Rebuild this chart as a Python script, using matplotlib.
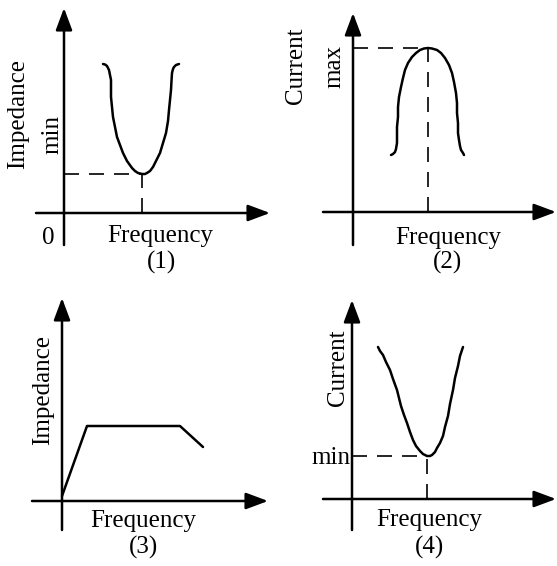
import matplotlib
matplotlib.use('Agg')
import matplotlib.pyplot as plt

plt.rcParams['font.family'] = ['Liberation Serif', 'DejaVu Serif']

W, H = 557, 566

# curves (frequency, value) relative to each origin
freq1 = [39, 41, 43, 45, 46, 47, 47, 47, 48, 49, 51, 53, 56, 59, 63, 68, 71, 74, 78,
         81, 83, 86, 89, 92, 96, 99, 102, 104, 105, 106, 107, 107.5, 108, 109, 110, 112, 115]
imp1 = [149, 148.5, 147, 143, 138, 133, 125, 116, 106, 96, 86, 76, 68, 60, 52, 45, 42, 40, 39,
        39, 40, 42, 46, 52, 60, 70, 80, 92, 103, 113, 123, 132, 140, 144, 146, 148, 149]
min1 = (78, 39)

freq2 = [38, 40, 42, 43, 44, 44, 44, 45, 45, 46, 48, 50, 52, 55, 59, 63, 67, 71, 75,
         79, 84, 88, 92, 96, 99, 101, 103, 104, 104, 105, 105, 106, 107, 108, 110, 111]
cur2 = [57, 58, 60, 63, 69, 77, 85, 95, 105, 115, 125, 134, 142, 149, 155, 159, 162, 163.5, 164,
        163.5, 162, 159, 154, 147, 139, 130, 119, 109, 99, 89, 79, 72, 66, 62, 59, 57]
max2 = (75, 164)

freq3 = [0, 25, 118, 141]
imp3 = [5, 75, 75, 54]

freq4 = [26, 28, 31, 34, 38, 41, 45, 47, 49, 52, 55, 58, 61, 64, 68, 71, 75,
         78, 80, 83, 85, 88, 91, 93, 96, 98, 101, 103, 106, 108, 111]
cur4 = [152, 148, 144, 137, 129, 120, 109, 101, 93, 84, 76, 67, 59, 53, 48, 45, 43,
        43, 44, 47, 51, 56, 63, 72, 83, 95, 109, 121, 133, 143, 152]
min4 = (75, 43)

ylabels = ['Impedance', 'Current', 'Impedance', 'Current']
captions = ['(1)', '(2)', '(3)', '(4)']

fig = plt.figure(figsize=(W / 100, H / 100), dpi=100)


def make_panel(box, origin):
    x0, y0, w, h = box
    ox, oy = origin
    ax = fig.add_axes([x0 / W, 1 - (y0 + h) / H, w / W, h / H])
    ax.set_xlim(x0 - ox, x0 + w - ox)
    ax.set_ylim(oy - (y0 + h), oy - y0)
    ax.axis('off')
    return ax


def draw_axes(ax, xr, yr):
    arrow = dict(arrowstyle='-|>,head_length=0.75,head_width=0.28', color='black',
                 lw=1.8, mutation_scale=18, shrinkA=0, shrinkB=0)
    ax.annotate('', xy=(xr[1], 0), xytext=(xr[0], 0), arrowprops=arrow)
    ax.annotate('', xy=(0, yr[1]), xytext=(0, yr[0]), arrowprops=arrow)


def dashed(ax, pt):
    kw = dict(color='black', lw=1.2, dashes=(9, 6))
    ax.plot([0, pt[0]], [pt[1], pt[1]], **kw)
    ax.plot([pt[0], pt[0]], [0, pt[1]], **kw)


fs = 18
curve = dict(color='black', lw=1.8, solid_joinstyle='round', solid_capstyle='round')

# (1)
ax1 = make_panel((0, 0, 280, 283), (64, 213))
draw_axes(ax1, (-28, 206), (-32, 205))
ax1.plot(freq1, imp1, **curve)
dashed(ax1, min1)
ax1.text(-46, 99, ylabels[0], rotation=90, ha='center', va='center', fontsize=fs)
ax1.text(-11.5, 79, 'min', rotation=90, ha='center', va='center', fontsize=fs)
ax1.text(-16, -25, '0', ha='center', va='center', fontsize=fs)
ax1.text(96, -23, 'Frequency', ha='center', va='center', fontsize=fs)
ax1.text(97, -49, captions[0], ha='center', va='center', fontsize=fs)

# (2)
ax2 = make_panel((280, 0, 277, 283), (353, 212))
draw_axes(ax2, (-30, 203), (-33, 199))
ax2.plot(freq2, cur2, **curve)
dashed(ax2, max2)
ax2.text(-57, 146, ylabels[1], rotation=90, ha='center', va='center', fontsize=fs)
ax2.text(-19, 145, 'max', rotation=90, ha='center', va='center', fontsize=fs)
ax2.text(95, -26, 'Frequency', ha='center', va='center', fontsize=fs)
ax2.text(94, -50, captions[1], ha='center', va='center', fontsize=fs)

# (3)
ax3 = make_panel((0, 283, 280, 283), (62, 501))
draw_axes(ax3, (-30, 206), (-29, 203))
ax3.plot(freq3, imp3, **curve)
ax3.text(-19, 111, ylabels[2], rotation=90, ha='center', va='center', fontsize=fs)
ax3.text(81, -20, 'Frequency', ha='center', va='center', fontsize=fs)
ax3.text(82, -46, captions[2], ha='center', va='center', fontsize=fs)

# (4)
ax4 = make_panel((280, 283, 277, 283), (352, 499))
draw_axes(ax4, (-29, 204), (-31, 199))
ax4.plot(freq4, cur4, **curve)
dashed(ax4, min4)
ax4.text(-14, 131, ylabels[3], rotation=90, ha='center', va='center', fontsize=fs)
ax4.text(-2, 41, 'min', ha='right', va='center', fontsize=fs)
ax4.text(77, -21, 'Frequency', ha='center', va='center', fontsize=fs)
ax4.text(77, -48, captions[3], ha='center', va='center', fontsize=fs)

fig.savefig('out.png', dpi=100, facecolor='white')
